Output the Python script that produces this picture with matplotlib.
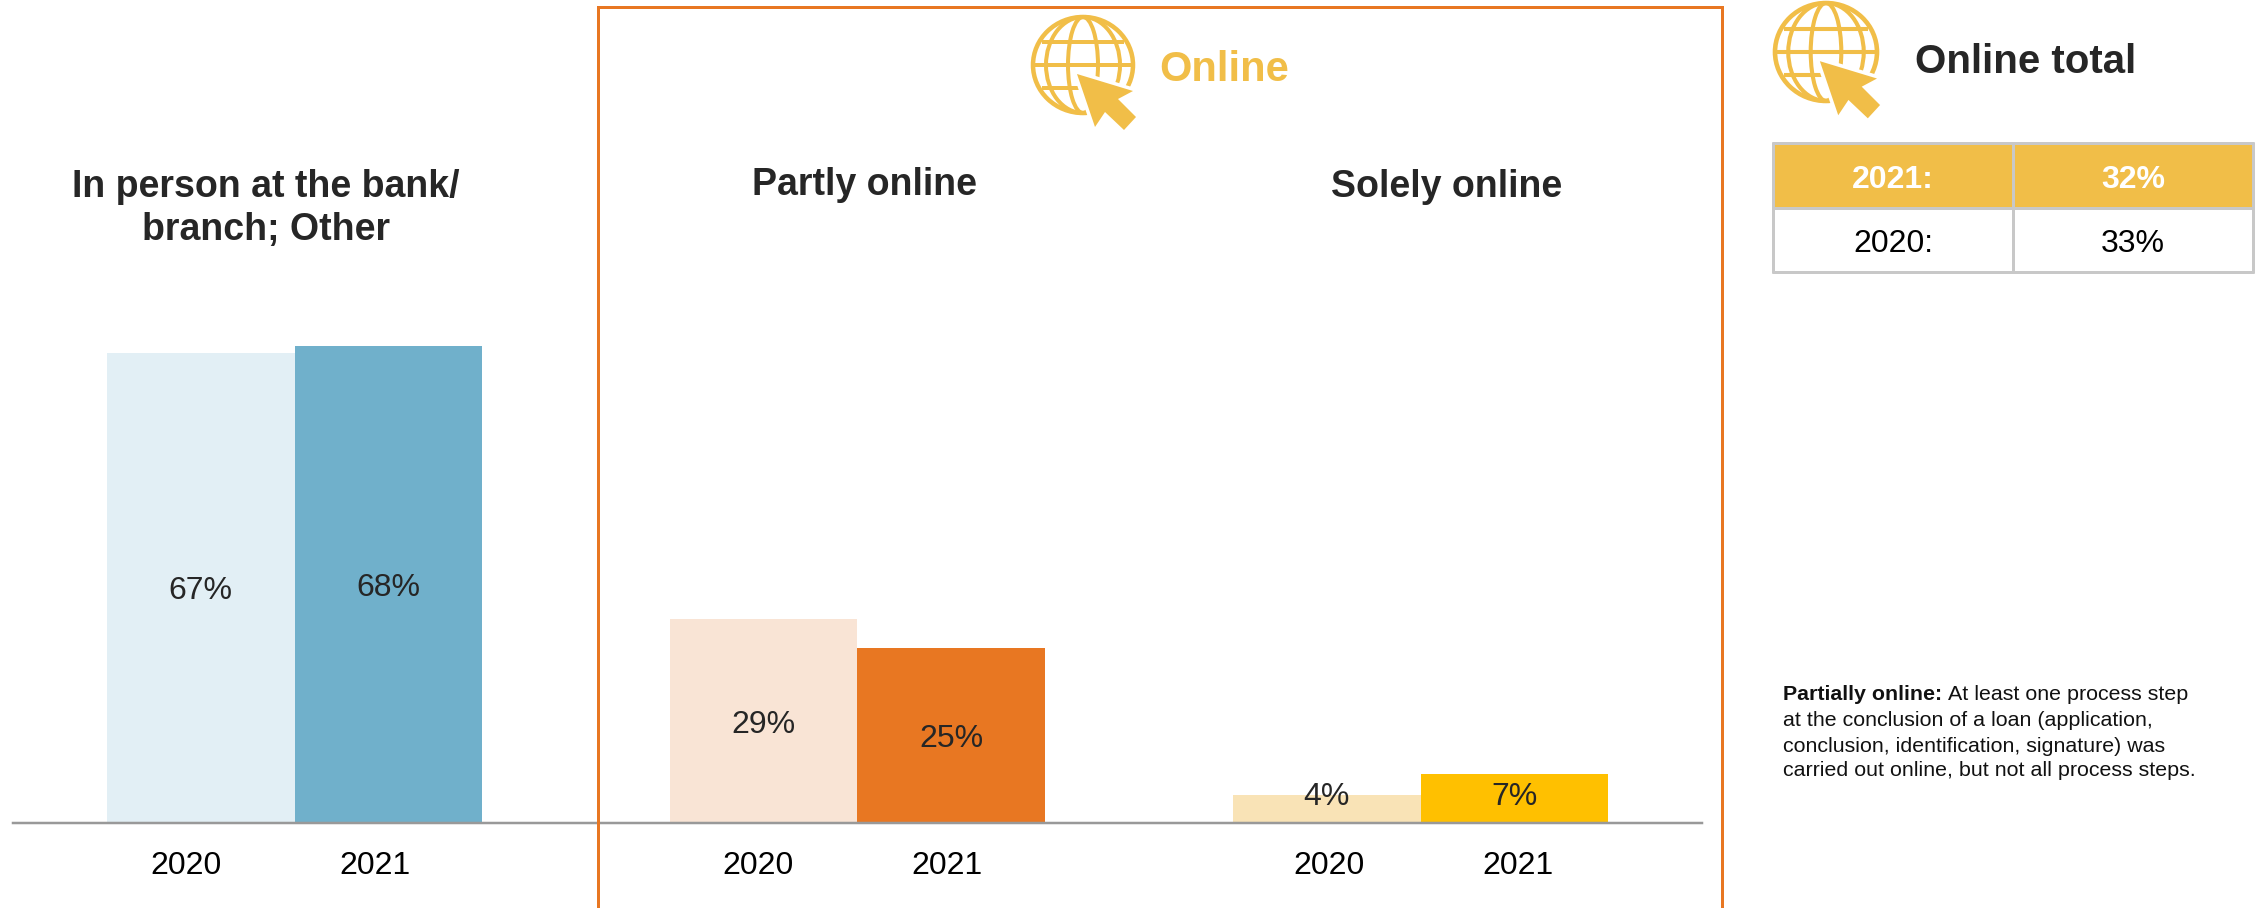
import matplotlib
matplotlib.use('Agg')
import matplotlib.pyplot as plt
from matplotlib.patches import Ellipse, Polygon, Rectangle

plt.rcParams['font.family'] = ['Liberation Sans', 'DejaVu Sans']

years = ['2020', '2021']
in_person = [67, 68]
partly_online = [29, 25]
solely_online = [4, 7]
total_2021 = '32%'
total_2020 = '33%'

BLUE_LIGHT, BLUE = '#E2EFF5', '#70B0CB'
ORANGE_LIGHT, ORANGE = '#F9E4D5', '#E87722'
GOLD_LIGHT, GOLD = '#F9E3B6', '#FFC000'
ICON = '#F1BE48'
DARK = '#262626'
GREY = '#C8C8C8'

W, H = 2264, 908
fig = plt.figure(figsize=(W / 100, H / 100), dpi=100, facecolor='white')


def px(v):
    # pixel widths to points
    return v * 0.72


# bars live on their own axes, one bar wide per x unit
ax = fig.add_axes([13 / W, (H - 823) / H, (1702 - 13) / W, 702 / H])
ax.set_xlim(-1, 8)
ax.set_ylim(0, 100)
ax.patch.set_alpha(0)
for side in ['top', 'left', 'right']:
    ax.spines[side].set_visible(False)
ax.spines['bottom'].set_color('#999999')
ax.spines['bottom'].set_linewidth(px(2.5))
ax.set_xticks([])
ax.set_yticks([])

groups = [
    (0, in_person, [BLUE_LIGHT, BLUE]),
    (3, partly_online, [ORANGE_LIGHT, ORANGE]),
    (6, solely_online, [GOLD_LIGHT, GOLD]),
]
for start, values, colors in groups:
    xs = [start, start + 1]
    ax.bar(xs, values, width=1.0, color=colors, linewidth=0)
    for x, v in zip(xs, values):
        # small bars get the label lifted so it stays readable
        ax.text(x, max(v / 2, 4.27) - 0.5, f'{v}%', ha='center', va='center',
                fontsize=23, color=DARK)

# everything else is laid out in pixels on a full-figure overlay
ov = fig.add_axes([0, 0, 1, 1])
ov.set_xlim(0, W)
ov.set_ylim(H, 0)
ov.axis('off')
ov.patch.set_alpha(0)

# frame round the online groups, open at the bottom
ov.plot([598, 598, 1722, 1722], [H + 5, 7, 7, H + 5], color=ORANGE, lw=px(3),
        solid_joinstyle='miter', zorder=3)

year_x = [186, 375, 758, 947, 1329, 1518]
for x, label in zip(year_x, years * 3):
    ov.text(x, 866, label, ha='center', va='center', fontsize=23, color='black')


def draw_icon(cx, cy, s):
    lw = px(4 * s)
    rx, ry = 50 * s, 48 * s
    ov.add_patch(Ellipse((cx, cy), 2 * rx, 2 * ry, fill=False, ec=ICON, lw=px(4.5 * s)))
    for half in [15, 37]:
        ov.add_patch(Ellipse((cx, cy), 2 * half * s, 2 * ry, fill=False, ec=ICON, lw=lw))
    for dy, half in [(-23, 41), (0, 49), (23, 41)]:
        ov.plot([cx - half * s, cx + half * s], [cy + dy * s, cy + dy * s], color=ICON, lw=lw,
                solid_capstyle='butt')
    arrow = [(-6, 9), (50, 26), (35, 34), (53, 52), (41, 65), (22, 47), (12, 62)]
    pts = [(cx + a * s, cy + b * s) for a, b in arrow]
    ov.add_patch(Polygon(pts, closed=True, fc=ICON, ec='white', lw=px(7 * s),
                         joinstyle='miter', zorder=2))
    ov.add_patch(Polygon(pts, closed=True, fc=ICON, ec='none', zorder=2.1))


draw_icon(1083, 65, 1.0)
draw_icon(1826, 52, 1.02)

ov.text(1159, 70, 'Online', ha='left', va='center', fontsize=30, fontweight='bold', color=ICON)
ov.text(1915, 62, 'Online total', ha='left', va='center', fontsize=29, fontweight='bold', color=DARK)

ov.text(266, 187, 'In person at the bank/', ha='center', va='center', fontsize=27,
        fontweight='bold', color=DARK)
ov.text(266, 230, 'branch; Other', ha='center', va='center', fontsize=27,
        fontweight='bold', color=DARK)
ov.text(865, 185, 'Partly online', ha='center', va='center', fontsize=27,
        fontweight='bold', color=DARK)
ov.text(1447, 187, 'Solely online', ha='center', va='center', fontsize=27,
        fontweight='bold', color=DARK)

# small summary table
left, mid, right = 1773, 2013, 2253
top, split, bottom = 143, 208, 272
ov.add_patch(Rectangle((left, top), right - left, split - top, fc=ICON, ec='none'))
for y in [top, split, bottom]:
    ov.plot([left - 1, right + 1], [y, y], color=GREY, lw=px(3), solid_capstyle='butt')
for x in [left, mid, right]:
    ov.plot([x, x], [top - 1, bottom + 1], color=GREY, lw=px(3), solid_capstyle='butt')

ov.text(1893, 180, '2021:', ha='center', va='center', fontsize=23, fontweight='bold', color='white')
ov.text(2133, 180, total_2021, ha='center', va='center', fontsize=23, fontweight='bold', color='white')
ov.text(1893, 244, '2020:', ha='center', va='center', fontsize=23, color='black')
ov.text(2133, 244, total_2020, ha='center', va='center', fontsize=23, color='black')

# footnote, bold lead-in then plain text
NOTE = 15.4
ov.text(1783, 695, 'Partially online:', ha='left', va='center', fontsize=NOTE, fontweight='bold', color='#111111')
ov.text(1948, 695, 'At least one process step', ha='left', va='center', fontsize=NOTE, color='#111111')
ov.text(1783, 720, 'at the conclusion of a loan (application,', ha='left', va='center', fontsize=NOTE, color='#111111')
ov.text(1783, 746, 'conclusion, identification, signature) was', ha='left', va='center', fontsize=NOTE, color='#111111')
ov.text(1783, 771, 'carried out online, but not all process steps.', ha='left', va='center', fontsize=NOTE, color='#111111')

fig.savefig('out.png', dpi=100)
